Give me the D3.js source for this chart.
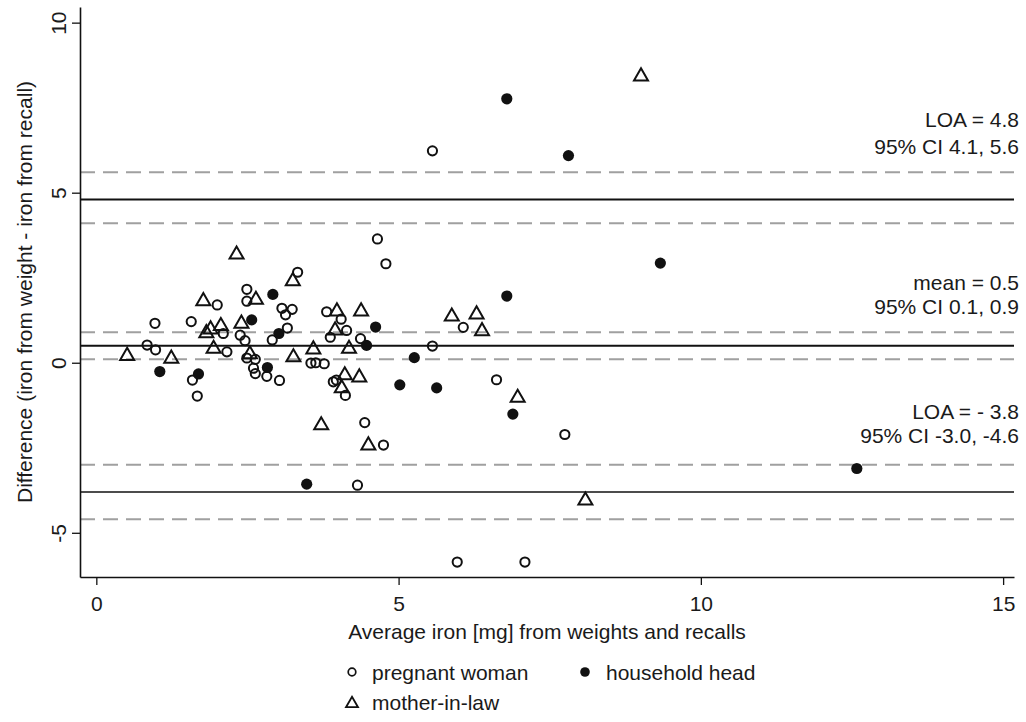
<!DOCTYPE html>
<html><head><meta charset="utf-8">
<script src="https://cdn.jsdelivr.net/npm/d3@7"></script>
<style>
body{margin:0;background:#fff;}
svg{display:block;}
text{font-family:"Liberation Sans", Arial, Helvetica, sans-serif;fill:#1a1a1a;}
</style></head><body>
<svg id="c" width="1026" height="722"></svg>
<script>
// ---- data ----
const xTicks = [0, 5, 10, 15];
const yTicks = [-5, 0, 5, 10];

const pregnantX = [0.84,0.98,0.97,1.57,1.59,1.67,2.00,2.10,2.16,2.49,2.49,2.38,2.46,2.49,2.63,2.60,2.63,2.82,3.03,2.91,3.07,3.24,3.13,3.16,3.33,3.55,3.63,3.77,3.81,4.05,4.14,3.87,4.37,3.92,3.97,4.12,4.44,4.75,4.32,4.65,4.79,5.56,5.56,6.07,6.62,7.75,5.97,7.09];
const pregnantY = [0.52,0.38,1.16,1.21,-0.51,-0.98,1.70,0.86,0.32,2.16,1.81,0.81,0.65,0.14,0.10,-0.16,-0.32,-0.40,-0.52,0.67,1.60,1.57,1.41,1.02,2.66,-0.01,0.00,-0.03,1.50,1.28,0.95,0.75,0.71,-0.56,-0.51,-0.96,-1.76,-2.42,-3.60,3.64,2.91,6.23,0.49,1.04,-0.50,-2.11,-5.86,-5.86];

const headX = [1.05,1.69,2.57,2.92,3.02,2.83,3.48,4.62,4.47,5.26,5.02,5.63,6.79,6.89,6.79,7.81,9.33,12.58];
const headY = [-0.26,-0.33,1.26,2.01,0.86,-0.14,-3.57,1.05,0.51,0.15,-0.65,-0.74,1.96,-1.51,7.76,6.09,2.93,-3.11];

const motherX = [0.51,1.24,1.77,1.82,1.89,2.06,1.94,2.32,2.40,2.64,2.54,3.25,3.26,3.59,3.98,3.95,4.38,4.18,4.11,4.35,4.06,3.72,4.50,5.88,6.29,6.38,6.97,8.09,9.01];
const motherY = [0.26,0.18,1.87,0.93,1.04,1.14,0.47,3.24,1.21,1.91,0.31,2.46,0.22,0.45,1.57,1.01,1.57,0.47,-0.31,-0.37,-0.69,-1.78,-2.37,1.42,1.48,0.99,-0.97,-3.99,8.48];

const solidLines = [4.8, 0.5, -3.8];
const dashedLines = [5.6, 4.1, 0.9, 0.1, -3.0, -4.6];

const annoLines = ["LOA = 4.8", "95% CI 4.1, 5.6", "mean = 0.5", "95% CI 0.1, 0.9", "LOA = - 3.8", "95% CI -3.0, -4.6"];
const annoY = [6.93, 6.13, 2.13, 1.43, -1.64, -2.36];

const legendLabels = ["pregnant woman", "household head", "mother-in-law"];
const xTitle = "Average iron [mg] from weights and recalls";
const yTitle = "Difference (iron from weight - iron from recall)";

// ---- chart ----
const svg = d3.select("#c");
const x = d3.scaleLinear().domain([-0.27, 15.18]).range([80, 1014]);
const y = d3.scaleLinear().domain([-6.30, 10.46]).range([577, 7]);
const FS = 21;

// reference lines
svg.append("g").selectAll("line").data(dashedLines).join("line")
  .attr("x1", x.range()[0]).attr("x2", x.range()[1])
  .attr("y1", d => y(d)).attr("y2", d => y(d))
  .attr("stroke", "#a0a0a0").attr("stroke-width", 2).attr("stroke-dasharray", "15,8");
svg.append("g").selectAll("line").data(solidLines).join("line")
  .attr("x1", x.range()[0]).attr("x2", x.range()[1])
  .attr("y1", d => y(d)).attr("y2", d => y(d))
  .attr("stroke", "#111").attr("stroke-width", (d,i) => i === 2 ? 1.6 : 2);

// axes
const fmt = d => String(d);
const gx = svg.append("g").attr("transform", `translate(0,${y.range()[0]})`)
  .call(d3.axisBottom(x).tickValues(xTicks).tickSizeInner(8).tickSizeOuter(0).tickPadding(6).tickFormat(fmt));
const gy = svg.append("g").attr("transform", `translate(${x.range()[0]},0)`)
  .call(d3.axisLeft(y).tickValues(yTicks).tickSizeInner(8).tickSizeOuter(0).tickPadding(6).tickFormat(fmt));
[gx, gy].forEach(g => {
  g.select(".domain").attr("stroke", "#111").attr("stroke-width", 1.6);
  g.selectAll(".tick line").attr("stroke", "#111").attr("stroke-width", 1.3);
  g.selectAll(".tick text").attr("font-size", FS).attr("fill", "#1a1a1a")
   .style("font-family", '"Liberation Sans", Arial, sans-serif');
});
gx.selectAll(".tick text").attr("dy", null).attr("y", 34);
gy.selectAll(".tick text")
  .attr("x", null).attr("dy", null)
  .attr("text-anchor", "middle")
  .attr("transform", "translate(-14,0) rotate(-90)");

// axis titles
svg.append("text").attr("x", (x.range()[0] + x.range()[1]) / 2).attr("y", 639)
  .attr("text-anchor", "middle").attr("font-size", FS).text(xTitle);
svg.append("text")
  .attr("transform", `translate(32,${(y.range()[0] + y.range()[1]) / 2}) rotate(-90)`)
  .attr("text-anchor", "middle").attr("font-size", FS).text(yTitle);

// annotations
svg.append("g").selectAll("text").data(annoLines).join("text")
  .attr("x", 1019).attr("y", (d,i) => y(annoY[i]))
  .attr("text-anchor", "end").attr("font-size", FS).text(d => d);

// markers
const triPath = (s) => {
  const h = s * Math.sqrt(3) / 2;
  return `M0,${-h/2}L${s/2},${h/2}L${-s/2},${h/2}Z`;
};
svg.append("g").selectAll("circle").data(pregnantX).join("circle")
  .attr("cx", d => x(d)).attr("cy", (d,i) => y(pregnantY[i])).attr("r", 4.6)
  .attr("fill", "none").attr("stroke", "#111").attr("stroke-width", 2);
svg.append("g").selectAll("path").data(motherX).join("path")
  .attr("d", triPath(14))
  .attr("transform", (d,i) => `translate(${x(d)},${y(motherY[i])})`)
  .attr("fill", "none").attr("stroke", "#111").attr("stroke-width", 2).attr("stroke-linejoin", "miter");
svg.append("g").selectAll("circle").data(headX).join("circle")
  .attr("cx", d => x(d)).attr("cy", (d,i) => y(headY[i])).attr("r", 5.6)
  .attr("fill", "#111");

// legend
const lg = svg.append("g");
lg.append("circle").attr("cx", 352).attr("cy", 672).attr("r", 3.8)
  .attr("fill", "none").attr("stroke", "#111").attr("stroke-width", 1.7);
lg.append("text").attr("x", 372).attr("y", 680).attr("font-size", FS).text(legendLabels[0]);
lg.append("circle").attr("cx", 585).attr("cy", 672).attr("r", 4.8).attr("fill", "#111");
lg.append("text").attr("x", 606).attr("y", 680).attr("font-size", FS).text(legendLabels[1]);
lg.append("path").attr("d", triPath(12)).attr("transform", "translate(352,702)")
  .attr("fill", "none").attr("stroke", "#111").attr("stroke-width", 1.8);
lg.append("text").attr("x", 372).attr("y", 710).attr("font-size", FS).text(legendLabels[2]);
</script>
</body></html>
